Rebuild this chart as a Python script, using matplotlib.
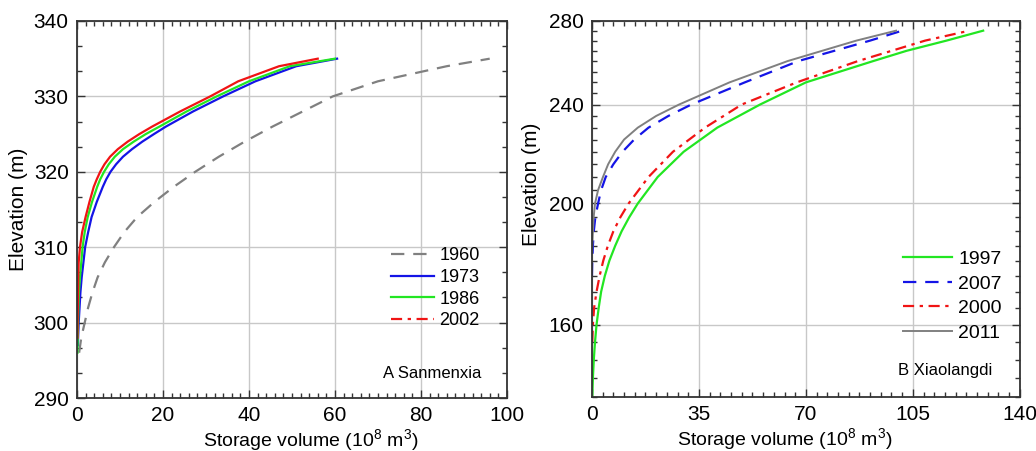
import matplotlib
matplotlib.use("Agg")
import matplotlib.pyplot as plt
from matplotlib.lines import Line2D
from matplotlib.ticker import MultipleLocator, FixedLocator, NullFormatter, FormatStrFormatter

plt.rcParams['font.family'] = ['Liberation Sans', 'DejaVu Sans']
plt.rcParams['mathtext.default'] = 'regular'

# A Sanmenxia: elevation (m) vs storage volume (10^8 m^3)
elev_1960 = [296, 298, 300, 302, 304, 306, 308, 310, 312, 314, 316, 318, 320, 322, 324, 326, 328, 330, 332, 334, 335]
vol_1960 = [0.5, 1.0, 1.8, 2.6, 3.6, 4.8, 6.5, 8.6, 11, 14, 18, 22.5, 27.5, 33, 39, 45.5, 52.5, 59.5, 70, 86, 96]

elev_1973 = [297, 300, 302, 304, 306, 308, 310, 312, 314, 316, 318, 319, 320, 321, 322, 323, 324, 325, 326, 328, 330, 332, 334, 335]
vol_1973 = [0.2, 0.4, 0.6, 0.8, 1.1, 1.5, 1.9, 2.6, 3.4, 4.6, 6.0, 6.8, 7.8, 9.1, 10.7, 12.8, 15.2, 17.9, 20.7, 27, 34, 41.5, 51, 60.5]

elev_1986 = [296, 300, 302, 304, 306, 308, 310, 312, 314, 316, 318, 319, 320, 321, 322, 323, 324, 325, 326, 328, 330, 332, 334, 335]
vol_1986 = [0.1, 0.25, 0.35, 0.45, 0.7, 1.0, 1.3, 1.8, 2.5, 3.5, 4.7, 5.4, 6.3, 7.4, 8.8, 10.7, 13.2, 16, 19.2, 25.5, 32.5, 40, 49.5, 60]

elev_2002 = [298, 300, 302, 304, 306, 308, 310, 312, 314, 316, 318, 319, 320, 321, 322, 323, 324, 325, 326, 328, 330, 332, 334, 335]
vol_2002 = [0.1, 0.15, 0.2, 0.25, 0.3, 0.4, 0.7, 1.2, 2.0, 2.9, 3.9, 4.6, 5.4, 6.4, 7.7, 9.5, 11.8, 14.5, 17.5, 24, 31, 37.5, 47, 56]

# B Xiaolangdi
elev_1997 = [140, 145, 150, 155, 160, 165, 170, 175, 180, 185, 190, 195, 200, 210, 220, 230, 240, 250, 260, 265, 270, 275]
vol_1997 = [0.1, 0.3, 0.6, 1.0, 1.5, 2.2, 3.0, 4.2, 5.7, 7.6, 9.7, 12.2, 15, 21.5, 30, 41, 55, 70, 92, 103, 116, 128]

elev_2000 = [155, 160, 165, 170, 175, 180, 185, 190, 195, 200, 210, 220, 230, 240, 250, 260, 270, 275]
vol_2000 = [0.1, 0.3, 0.7, 1.5, 2.5, 3.7, 5.2, 7.0, 9.3, 12.0, 18.5, 26.5, 37, 49, 67, 87, 109, 123.5]

elev_2007 = [175, 180, 185, 190, 195, 200, 205, 210, 215, 220, 225, 230, 235, 240, 250, 260, 270, 275]
vol_2007 = [0.0, 0.1, 0.3, 0.6, 1.1, 2.0, 3.0, 4.5, 7.0, 10, 13.8, 18.5, 25, 32.5, 50, 67.5, 91, 101.5]

elev_2011 = [183, 185, 190, 195, 200, 205, 210, 215, 220, 225, 230, 235, 240, 250, 260, 270, 275]
vol_2011 = [0.0, 0.1, 0.3, 0.55, 1.0, 2.0, 3.6, 5.3, 7.6, 10.5, 15, 21, 28.5, 45, 64, 86.5, 99.5]

c_gray = '#808080'
c_blue = '#1414e6'
c_green = '#22e622'
c_red = '#f01414'

fig = plt.figure(figsize=(10.36, 4.51), dpi=100)
ax1 = fig.add_axes([0.0743, 0.1175, 0.415, 0.836])
ax2 = fig.add_axes([0.5714, 0.1197, 0.413, 0.834])

lw = 1.6
dash = (0, (6, 4))
dashdot = (0, (5, 2.5, 1.5, 2.5))

ax1.plot(vol_1960, elev_1960, color=c_gray, lw=lw, ls=dash)
ax1.plot(vol_1973, elev_1973, color=c_blue, lw=lw)
ax1.plot(vol_1986, elev_1986, color=c_green, lw=lw)
ax1.plot(vol_2002, elev_2002, color=c_red, lw=lw)

ax2.plot(vol_1997, elev_1997, color=c_green, lw=lw)
ax2.plot(vol_2007, elev_2007, color=c_blue, lw=lw, ls=dash)
ax2.plot(vol_2000, elev_2000, color=c_red, lw=lw, ls=dashdot)
ax2.plot(vol_2011, elev_2011, color=c_gray, lw=1.4)

ax1.set_xlim(0, 100)
ax1.set_ylim(290, 340)
ax1.xaxis.set_major_locator(MultipleLocator(20))
ax1.xaxis.set_minor_locator(MultipleLocator(2))
ax1.yaxis.set_major_locator(MultipleLocator(10))
ax1.yaxis.set_minor_locator(MultipleLocator(10 / 3))

ax2.set_yscale('log')
ax2.set_xlim(0, 140)
ax2.set_ylim(140, 280)
ax2.xaxis.set_major_locator(MultipleLocator(35))
ax2.xaxis.set_minor_locator(MultipleLocator(3.5))
ax2.yaxis.set_major_locator(FixedLocator([160, 200, 240, 280]))
ax2.yaxis.set_minor_locator(MultipleLocator(5))
ax2.yaxis.set_major_formatter(FormatStrFormatter('%d'))
ax2.yaxis.set_minor_formatter(NullFormatter())

for ax in (ax1, ax2):
    ax.grid(True, which='major', color='#c8c8c8', lw=1.0)
    ax.set_axisbelow(True)
    ax.tick_params(which='both', direction='in', top=True, right=True, labelsize=15, color='#333333')
    ax.tick_params(axis='y', pad=6)
    ax.tick_params(axis='x', pad=6)
    ax.tick_params(which='major', length=6, width=1.0)
    ax.tick_params(which='minor', length=3.5, width=1.0)
    for s in ax.spines.values():
        s.set_linewidth(1.3)
        s.set_color('#333333')
    ax.set_ylabel('Elevation (m)', fontsize=15)
    ax.set_xlabel('Storage volume (10$^8$ m$^3$)', fontsize=14)

ax1.xaxis.set_label_coords(0.544, -0.077)
ax2.xaxis.set_label_coords(0.45, -0.078)
ax1.yaxis.set_label_coords(-0.115, 0.5)
ax2.yaxis.set_label_coords(-0.118, 0.565)

h1 = [Line2D([], [], color=c_gray, lw=lw, ls=dash),
      Line2D([], [], color=c_blue, lw=lw),
      Line2D([], [], color=c_green, lw=lw),
      Line2D([], [], color=c_red, lw=lw, ls=dashdot)]
ax1.legend(h1, ['1960', '1973', '1986', '2002'], loc='upper left', bbox_to_anchor=(0.73, 0.40),
           frameon=False, fontsize=13, handlelength=2.4, handletextpad=0.3, labelspacing=0.26, borderpad=0,
           borderaxespad=0)

h2 = [Line2D([], [], color=c_green, lw=lw),
      Line2D([], [], color=c_blue, lw=lw, ls=dash),
      Line2D([], [], color=c_red, lw=lw, ls=dashdot),
      Line2D([], [], color=c_gray, lw=1.4)]
ax2.legend(h2, ['1997', '2007', '2000', '2011'], loc='upper left', bbox_to_anchor=(0.727, 0.39),
           frameon=False, fontsize=14, handlelength=2.5, handletextpad=0.35, labelspacing=0.36, borderpad=0,
           borderaxespad=0)

ax1.text(0.94, 0.066, 'A Sanmenxia', transform=ax1.transAxes, ha='right', va='center', fontsize=12)
ax2.text(0.935, 0.07, 'B Xiaolangdi', transform=ax2.transAxes, ha='right', va='center', fontsize=12)

fig.savefig('out.png', dpi=100)
